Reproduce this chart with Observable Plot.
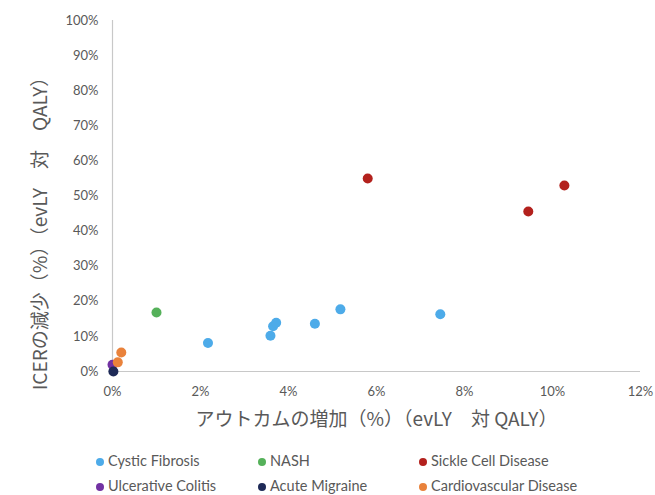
<!DOCTYPE html>
<html>
<head>
<meta charset="utf-8">
<script src="https://cdn.jsdelivr.net/npm/d3@7"></script>
<script src="https://cdn.jsdelivr.net/npm/@observablehq/plot@0.6"></script>
<style>
  html, body { margin: 0; padding: 0; background: #fff; }
  #wrap { position: relative; width: 655px; height: 495px; overflow: hidden; }
  #legend { position: absolute; left: 0; top: 0; width: 655px; height: 495px; pointer-events: none; }
  .li { position: absolute; font-family: Lato, "Open Sans", sans-serif; font-size: 14.5px; color: #595959; white-space: nowrap; line-height: 16px; }
  .li span.dot { display: inline-block; width: 8px; height: 8px; border-radius: 50%; margin-right: 4px; vertical-align: 0px; }
</style>
</head>
<body>
<div id="wrap"><div id="chart"></div><div id="legend"></div></div>
<script>
// Series names and colours
const seriesNames = ["Cystic Fibrosis", "NASH", "Sickle Cell Disease", "Ulcerative Colitis", "Acute Migraine", "Cardiovascular Disease"];
const seriesColors = ["#4DABE9", "#55B15A", "#B3211D", "#7232A3", "#1E2A57", "#E9823B"];

// Values (percent)
const cfX = [2.17, 3.59, 3.65, 3.72, 4.60, 5.18, 7.45];
const cfY = [8.1, 10.2, 12.9, 13.9, 13.6, 17.7, 16.3];
const nashX = [1.0];
const nashY = [16.8];
const scdX = [5.80, 9.45, 10.27];
const scdY = [55.0, 45.6, 53.0];
const ucX = [0.0];
const ucY = [1.9];
const amX = [0.02];
const amY = [0.0];
const cvdX = [0.12, 0.20];
const cvdY = [2.6, 5.4];

const xTicks = [0, 2, 4, 6, 8, 10, 12];
const yTicks = [0, 10, 20, 30, 40, 50, 60, 70, 80, 90, 100];

const xTitle = "アウトカムの増加（%）（evLY　対 QALY）";
const yTitle = "ICERの減少（%）（evLY　対　QALY）";

const seriesX = [cfX, nashX, scdX, ucX, amX, cvdX];
const seriesY = [cfY, nashY, scdY, ucY, amY, cvdY];
const data = [];
seriesNames.forEach((s, i) => seriesX[i].forEach((x, j) => data.push({series: s, x, y: seriesY[i][j]})));

const chart = Plot.plot({
  width: 655,
  height: 440,
  marginLeft: 112,
  marginRight: 15,
  marginTop: 20,
  marginBottom: 69,
  style: {fontFamily: "Lato, 'Open Sans', sans-serif", fontSize: "13px", color: "#595959", background: "#fff"},
  x: {domain: [0, 12], ticks: xTicks, tickFormat: d => d + "%", label: null},
  y: {domain: [0, 100], ticks: yTicks, tickFormat: d => d + "%", label: null},
  color: {domain: seriesNames, range: seriesColors},
  marks: [
    Plot.axisX({ticks: xTicks, tickFormat: d => d + "%", tickSize: 0, tickPadding: 15, fontSize: 13, fill: "#595959", label: null}),
    Plot.axisY({ticks: yTicks, tickFormat: d => d + "%", tickSize: 0, tickPadding: 14, fontSize: 13, fill: "#595959", label: null}),
    Plot.ruleY([0], {stroke: "#c8c8c8", strokeWidth: 1.2}),
    Plot.ruleX([0], {stroke: "#c8c8c8", strokeWidth: 1.2}),
    Plot.dot(data, {x: "x", y: "y", fill: "series", r: 5, stroke: "none"}),
    Plot.text([xTitle], {frameAnchor: "bottom", dy: 54, fontSize: 19, fill: "#595959", fontFamily: "'Noto Sans CJK JP', sans-serif", textAnchor: "middle"}),
    Plot.text([yTitle], {frameAnchor: "left", dx: -72, dy: 33, rotate: -90, fontSize: 19, fill: "#595959", fontFamily: "'Noto Sans CJK JP', sans-serif", textAnchor: "middle"})
  ]
});
document.getElementById("chart").appendChild(chart);

// Legend below the chart
const legendCols = [96, 258, 419];
const legendRows = [453, 478];
const legend = document.getElementById("legend");
seriesNames.forEach((s, i) => {
  const d = document.createElement("div");
  d.className = "li";
  d.style.left = legendCols[i % 3] + "px";
  d.style.top = legendRows[Math.floor(i / 3)] + "px";
  d.innerHTML = `<span class="dot" style="background:${seriesColors[i]}"></span>${s}`;
  legend.appendChild(d);
});
</script>
</body>
</html>
